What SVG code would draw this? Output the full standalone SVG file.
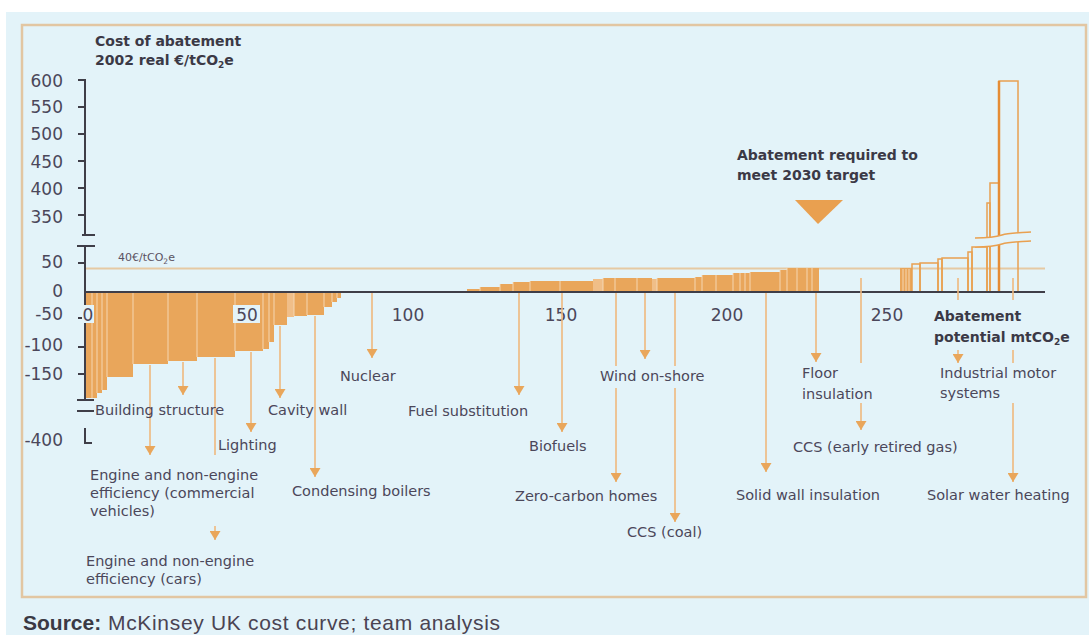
<svg xmlns="http://www.w3.org/2000/svg" width="1089" height="635" viewBox="0 0 1089 635">
<style>
.lbl{font-family:"DejaVu Sans","Liberation Sans",sans-serif;font-size:14.5px;fill:#4B475A}
.bold{font-family:"DejaVu Sans","Liberation Sans",sans-serif;font-size:14px;font-weight:bold;fill:#3B3946}
.tick{font-family:"DejaVu Sans","Liberation Sans",sans-serif;font-size:17px;fill:#4B475A}
.ax{stroke:#3F3E48;stroke-width:2;fill:none}
.bar{fill:#E9A65B}
.barl{fill:#F0BE88}
.str{stroke:#F7DCBC;stroke-width:1;opacity:0.9}
.ob{fill:none;stroke:#E9A050;stroke-width:1.5}
.con{stroke:#EFB87E;stroke-width:1.6;fill:none}
.arr{marker-end:url(#arr)}
</style>
<defs>
<marker id="arr" viewBox="0 0 10 10" refX="10" refY="5" markerWidth="9" markerHeight="11" markerUnits="userSpaceOnUse" orient="auto" preserveAspectRatio="none">
<path d="M0,0 L10,5 L0,10 z" fill="#E9A65B"/>
</marker>
</defs>
<rect x="0" y="0" width="1089" height="635" fill="#FFFFFF"/>
<rect x="6" y="12" width="1083" height="623" fill="#E3F3F9"/>
<rect x="22" y="25" width="1064" height="572" fill="none" stroke="#E2C6A2" stroke-width="2.5"/>

<!-- 40 EUR line -->
<line x1="85" y1="268.5" x2="1045" y2="268.5" stroke="#E6C9A3" stroke-width="2"/>
<text x="118" y="261" font-family="DejaVu Sans,Liberation Sans,sans-serif" font-size="11" fill="#5A5262">40€/tCO<tspan font-size="7.5" dy="2.5">2</tspan><tspan dy="-2.5">e</tspan></text>

<g id="bars-negative">
<rect class="bar" x="86" y="292" width="11" height="106"/>
<rect class="bar" x="97" y="292" width="5" height="101"/>
<rect class="bar" x="102" y="292" width="5" height="98"/>
<rect class="bar" x="107" y="292" width="26" height="85"/>
<rect class="bar" x="133" y="292" width="35" height="72"/>
<rect class="bar" x="168" y="292" width="29" height="69"/>
<rect class="bar" x="197" y="292" width="38" height="65"/>
<rect class="bar" x="235" y="292" width="28" height="59"/>
<rect class="bar" x="263" y="292" width="6" height="57"/>
<rect class="bar" x="269" y="292" width="5" height="50"/>
<rect class="bar" x="274" y="292" width="13" height="33"/>
<rect class="barl" x="287" y="292" width="7" height="25"/>
<rect class="bar" x="294" y="292" width="13" height="24"/>
<rect class="bar" x="307" y="292" width="17" height="23"/>
<rect class="bar" x="324" y="292" width="8" height="15"/>
<rect class="bar" x="332" y="292" width="5" height="10"/>
<rect class="bar" x="337" y="292" width="4" height="6"/>
<path class="str" d="M97,293V393M102,293V390M107,293V377M133,293V364M168,293V361M197,293V357M235,293V351M263,293V349M269,293V342M274,293V325M294,293V316M307,293V315M324,293V307M332,293V302M337,293V298M92,293V398"/>
</g>

<g id="bars-positive">
<rect class="bar" x="467" y="289" width="13" height="3"/>
<rect class="bar" x="480" y="287" width="20" height="5"/>
<rect class="bar" x="500" y="284" width="13" height="8"/>
<rect class="bar" x="513" y="282" width="17" height="10"/>
<rect class="bar" x="530" y="281" width="63" height="11"/>
<rect class="barl" x="593" y="279" width="10" height="13"/>
<rect class="bar" x="603" y="278" width="34" height="14"/>
<rect class="bar" x="637" y="278" width="15" height="14"/>
<rect class="barl" x="652" y="279" width="5" height="13"/>
<rect class="bar" x="657" y="278" width="38" height="14"/>
<rect class="bar" x="695" y="277" width="7" height="15"/>
<rect class="bar" x="702" y="275" width="31" height="17"/>
<rect class="bar" x="733" y="273" width="17" height="19"/>
<rect class="bar" x="750" y="272" width="30" height="20"/>
<rect class="bar" x="780" y="270" width="7" height="22"/>
<rect class="bar" x="787" y="268" width="32" height="24"/>
<path class="str" d="M480,287V291M500,284V291M513,282V291M530,281V291M560,281V291M603,278V291M615,278V291M637,278V291M657,278V291M695,277V291M702,275V291M716,275V291M733,273V291M740,273V291M745,273V291M750,272V291M780,270V291M787,268V291M797,268V291M807,268V291M812,268V291"/>
<rect class="bar" x="900" y="268" width="12" height="24"/>
<path class="str" d="M903,269V291M906,269V291M909,269V291"/>
<rect class="ob" x="912" y="264" width="8" height="28"/>
<rect class="ob" x="920" y="263" width="18" height="29"/>
<rect class="ob" x="938" y="259" width="4" height="33"/>
<rect class="ob" x="942" y="258" width="26" height="34"/>
<rect class="ob" x="968" y="252" width="4" height="40"/>
<rect class="ob" x="972" y="247" width="15" height="45"/>
<rect class="ob" x="987" y="203" width="3" height="89"/>
<rect class="ob" x="990" y="183" width="9" height="109"/>
<rect class="ob" x="999" y="81" width="19" height="211"/>
<line x1="999" y1="81" x2="999" y2="292" stroke="#E58C35" stroke-width="2.5"/>
<!-- break -->
<path d="M975,238 C990,238 996,237 1002,235 C1008,233 1016,233 1031,232 L1031,241 C1016,242 1008,242 1002,244 C996,246 990,247 975,247 Z" fill="#E3F3F9"/>
<path d="M975,238 C990,238 996,237 1002,235 C1008,233 1016,233 1031,232" fill="none" stroke="#E9A050" stroke-width="1.5"/>
<path d="M975,247 C990,247 996,246 1002,244 C1008,242 1016,242 1031,241" fill="none" stroke="#E9A050" stroke-width="1.5"/>
</g>

<g id="target-marker">
<polygon points="795,200 843,200 818,224" fill="#E9A050"/>
<text class="bold" x="737" y="160">Abatement required to</text>
<text class="bold" x="737" y="180">meet 2030 target</text>
</g>

<g id="axes">
<path class="ax" d="M78,80H85V235"/>
<path class="ax" d="M82,235H95M77,246H95"/>
<path class="ax" d="M85,246V400"/>
<path class="ax" d="M78,107H85M78,134H85M78,161H85M78,188H85M78,215H85M78,263H85M78,318H85M78,347H85M78,374H85"/>
<path class="ax" d="M77,400H94M77,411H94"/>
<path class="ax" d="M85,428V443H92"/>
<line x1="85" y1="292" x2="1045" y2="292" stroke="#3F3E48" stroke-width="2"/>
<g class="tick" text-anchor="end">
<text x="63" y="87">600</text>
<text x="63" y="113">550</text>
<text x="63" y="140">500</text>
<text x="63" y="168">450</text>
<text x="63" y="195">400</text>
<text x="63" y="223">350</text>
<text x="63" y="268">50</text>
<text x="63" y="297">0</text>
<text x="63" y="320">-50</text>
<text x="63" y="351">-100</text>
<text x="63" y="380">-150</text>
<text x="63" y="446">-400</text>
</g>
<rect x="82" y="305" width="12" height="18" fill="#E3F3F9"/>
<rect x="233" y="305" width="27" height="18" fill="#E3F3F9"/>
<g class="tick" text-anchor="middle">
<text x="88" y="321">0</text>
<text x="247" y="321">50</text>
<text x="408" y="321">100</text>
<text x="561" y="321">150</text>
<text x="727" y="321">200</text>
<text x="887" y="321">250</text>
</g>
<text class="bold" x="95" y="46">Cost of abatement</text>
<text class="bold" x="95" y="65">2002 real €/tCO<tspan font-size="9" dy="3">2</tspan><tspan dy="-3">e</tspan></text>
<text class="bold" x="934" y="321">Abatement</text>
<text class="bold" x="934" y="342">potential mtCO<tspan font-size="9" dy="3">2</tspan><tspan dy="-3">e</tspan></text>
</g>

<g id="connectors">
<line class="con arr" x1="150" y1="365" x2="150" y2="455"/>
<line class="con arr" x1="183" y1="362" x2="183" y2="395"/>
<line class="con" x1="215" y1="358" x2="215" y2="455"/>
<line class="con arr" x1="215" y1="526" x2="215" y2="540"/>
<line class="con arr" x1="251" y1="352" x2="251" y2="432"/>
<line class="con arr" x1="280" y1="326" x2="280" y2="398"/>
<line class="con arr" x1="315" y1="316" x2="315" y2="477"/>
<line class="con arr" x1="372" y1="293" x2="372" y2="358"/>
<line class="con arr" x1="519" y1="293" x2="519" y2="395"/>
<line class="con arr" x1="562" y1="293" x2="562" y2="432"/>
<line class="con" x1="616" y1="293" x2="616" y2="366"/>
<line class="con arr" x1="616" y1="388" x2="616" y2="482"/>
<line class="con arr" x1="645" y1="293" x2="645" y2="359"/>
<line class="con" x1="675" y1="293" x2="675" y2="366"/>
<line class="con arr" x1="675" y1="388" x2="675" y2="522"/>
<line class="con arr" x1="766" y1="293" x2="766" y2="472"/>
<line class="con arr" x1="816" y1="293" x2="816" y2="362"/>
<line class="con" x1="861" y1="278" x2="861" y2="363"/>
<line class="con arr" x1="861" y1="403" x2="861" y2="430"/>
<line class="con" x1="958" y1="278" x2="958" y2="300"/>
<line class="con arr" x1="958" y1="350" x2="958" y2="363"/>
<line class="con" x1="1013" y1="278" x2="1013" y2="300"/>
<line class="con" x1="1013" y1="350" x2="1013" y2="363"/>
<line class="con arr" x1="1013" y1="403" x2="1013" y2="482"/>
</g>

<g id="label-building-structure"><text class="lbl" x="95" y="415">Building structure</text></g>
<g id="label-engine-commercial">
<text class="lbl" x="90" y="480">Engine and non-engine</text>
<text class="lbl" x="90" y="498">efficiency (commercial</text>
<text class="lbl" x="90" y="516">vehicles)</text>
</g>
<g id="label-engine-cars">
<text class="lbl" x="86" y="566">Engine and non-engine</text>
<text class="lbl" x="86" y="584">efficiency (cars)</text>
</g>
<g id="label-lighting"><text class="lbl" x="218" y="450">Lighting</text></g>
<g id="label-cavity-wall"><text class="lbl" x="268" y="415">Cavity wall</text></g>
<g id="label-condensing-boilers"><text class="lbl" x="292" y="496">Condensing boilers</text></g>
<g id="label-nuclear"><text class="lbl" x="340" y="381">Nuclear</text></g>
<g id="label-fuel-substitution"><text class="lbl" x="408" y="416">Fuel substitution</text></g>
<g id="label-biofuels"><text class="lbl" x="529" y="451">Biofuels</text></g>
<g id="label-zero-carbon-homes"><text class="lbl" x="515" y="501">Zero-carbon homes</text></g>
<g id="label-wind-on-shore"><text class="lbl" x="600" y="381">Wind on-shore</text></g>
<g id="label-ccs-coal"><text class="lbl" x="627" y="537">CCS (coal)</text></g>
<g id="label-solid-wall"><text class="lbl" x="736" y="500">Solid wall insulation</text></g>
<g id="label-floor-insulation">
<text class="lbl" x="802" y="378">Floor</text>
<text class="lbl" x="802" y="399">insulation</text>
</g>
<g id="label-ccs-gas"><text class="lbl" x="793" y="452">CCS (early retired gas)</text></g>
<g id="label-industrial-motor">
<text class="lbl" x="940" y="378">Industrial motor</text>
<text class="lbl" x="940" y="398">systems</text>
</g>
<g id="label-solar-water"><text class="lbl" x="927" y="500">Solar water heating</text></g>

<g id="source">
<text x="23" y="630" font-family="Liberation Sans,Arial,sans-serif" font-size="21" font-weight="bold" fill="#3A3944">Source:</text>
<text x="108" y="630" font-family="Liberation Sans,Arial,sans-serif" font-size="21" fill="#4A4352" textLength="392" lengthAdjust="spacing">McKinsey UK cost curve; team analysis</text>
</g>
</svg>
